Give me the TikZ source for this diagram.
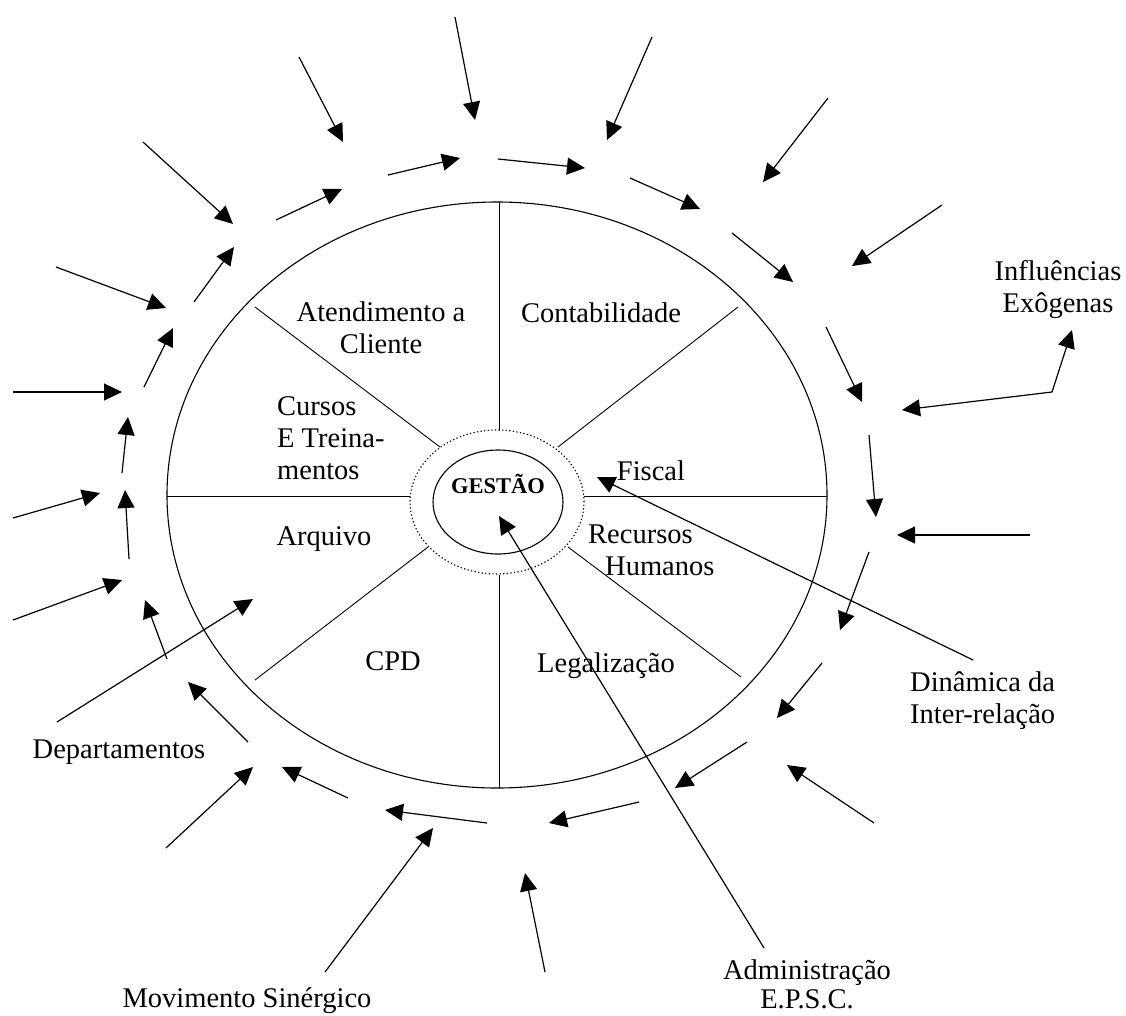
\documentclass[tikz,border=0pt]{standalone}
\usepackage{fontspec}
\setmainfont{Liberation Serif}
\usetikzlibrary{arrows.meta}
\begin{document}
\begin{tikzpicture}[x=1pt,y=-1pt,
  flow/.style={line width=1.2pt,-{Triangle[length=18pt,width=17pt]}},
  both/.style={line width=1.2pt,{Triangle[length=18pt,width=17pt]}-{Triangle[length=18pt,width=17pt]}},
  rim/.style={line width=1.1pt},
  spoke/.style={line width=0.9pt},
  lbl/.style={inner sep=0pt,font=\fontsize{28.5}{32}\selectfont,
    execute at begin node=\strut,execute at end node=\strut}]
\useasboundingbox[fill=white] (0,0) rectangle (1126,1015);

% outer wheel, core and dotted ring
\draw[rim] (497,495) ellipse [x radius=330pt, y radius=293pt];
\draw[line width=1.1pt,dash pattern=on 1.3pt off 2.3pt] (497,502) ellipse [x radius=87pt, y radius=72pt];
\draw[rim] (498,502) ellipse [x radius=65pt, y radius=52pt];
\node[inner sep=0pt,anchor=base,font=\fontsize{22.5}{24}\selectfont\bfseries] (gestao) at (498,493) {GESTÃO};

% spokes between the departments
\draw[spoke] (499,202) -- (499,430);
\draw[spoke] (499,575) -- (499,788);
\draw[spoke] (167,496) -- (410,496);
\draw[spoke] (584,496) -- (827,496);
\draw[spoke] (255,307) -- (440,447);
\draw[spoke] (738,307) -- (558,447);
\draw[spoke] (255,680) -- (428,547);
\draw[spoke] (741,677) -- (568,547);

% department labels
\node[lbl,align=center] (atend) at (381,332.6) {Atendimento a\\Cliente};
\node[lbl] (contab) at (601,315.6) {Contabilidade};
\node[lbl,align=left,anchor=west] (cursos) at (277,442.6) {Cursos\\E Treina-\\mentos};
\node[lbl] (fiscal) at (651,473.6) {Fiscal};
\node[lbl] (arquivo) at (324,538.6) {Arquivo};
\node[lbl,align=left,anchor=west] (rh) at (588,554.6) {Recursos\\\hspace*{17pt}Humanos};
\node[lbl] (cpd) at (393,663.6) {CPD};
\node[lbl] (legal) at (606,665.6) {Legalização};

% outer labels
\node[lbl] (depto) at (119,751.6) {Departamentos};
\node[lbl] (sinerg) at (247,1000.6) {Movimento Sinérgico};
\node[lbl,align=center,font=\fontsize{28.5}{29}\selectfont] (admin) at (807,988) {Administração\\E.P.S.C.};
\node[lbl,align=left,anchor=west] (dinam) at (910,702.6) {Dinâmica da\\Inter-relação};
\node[lbl,align=center] (exog) at (1058,291.6) {Influências\\Exôgenas};

% connector end points
\coordinate (adminTail) at (764,948);
\coordinate (adminTip) at (499,516);
\coordinate (dinamTail) at (973,660);
\coordinate (dinamTip) at (597,477);
\coordinate (deptoTail) at (57,722);
\coordinate (deptoTip) at (253,599);
\coordinate (sinergTail) at (325,972);
\coordinate (sinergTip) at (433,828);
\coordinate (exogTip) at (1072,330);
\coordinate (exogBend) at (1052,392);
\coordinate (exogRing) at (902,410);

\draw[flow] (adminTail) -- (adminTip);
\draw[flow] (dinamTail) -- (dinamTip);
\draw[flow] (deptoTail) -- (deptoTip);
\draw[flow] (sinergTail) -- (sinergTip);
\draw[both] (exogRing) -- (exogBend) -- (exogTip);

% influences pressing in from outside
\foreach \ax/\ay/\bx/\by in {
  455/17/475/120, 299/57/343/142, 143/142/233/224, 56/267/166/308,
  13/392/122/392, 13/518/100/493, 13/620/122/580, 166/848/253/767,
  545/972/525/873, 874/823/787/765, 1030/535/897/535,
  942/205/852/266, 828/98/763/182, 652/37/607/140}
  \draw[flow] (\ax,\ay) -- (\bx,\by);

% circulating flow around the wheel
\foreach \ax/\ay/\bx/\by in {
  498/159/585/168, 630/178/700/209, 732/233/793/282, 826/327/862/402,
  869/435/876/517, 869/552/840/630, 822/663/777/718, 747/742/675/788,
  639/802/549/823, 487/823/385/810, 348/798/282/767, 248/742/188/682,
  167/659/145/600, 129/559/125/490, 122/473/128/417, 144/387/173/328,
  194/302/234/247, 276/220/342/189, 388/175/460/158}
  \draw[flow] (\ax,\ay) -- (\bx,\by);
\end{tikzpicture}
\end{document}
